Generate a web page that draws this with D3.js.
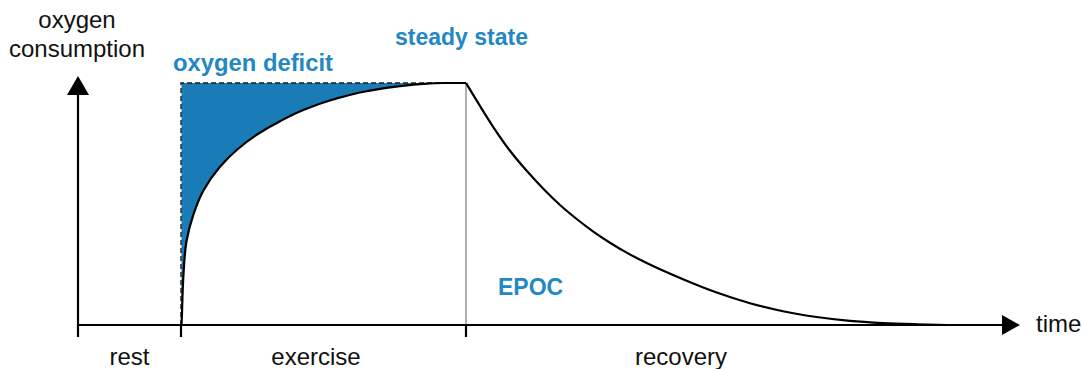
<!DOCTYPE html>
<html>
<head>
<meta charset="utf-8">
<script src="https://cdn.jsdelivr.net/npm/d3@7"></script>
<style>
  html, body { margin: 0; padding: 0; background: #fff; }
  svg { display: block; }
  text { font-family: "Liberation Sans", Arial, sans-serif; }
</style>
</head>
<body>
<svg id="chart" width="1082" height="369"></svg>
<script>
// ---- data (time in arbitrary units, oxygen consumption in % of steady state) ----
const exerciseTime  = [10.35, 10.4, 10.45, 10.55, 10.87, 11.53, 12.53, 14.2, 15.87, 17.87, 20.2, 22.53, 25.5, 28.87, 32.2, 34.5, 36.5, 38.8];
const exerciseValue = [0,     5,    12,    21,    35,    45.5,  55.5,  65.4, 72.3,  78.6,  84.2, 88.8,  93.2, 96.6,  98.7, 99.6, 100,  100];
const recoveryTime  = [38.8, 40.2, 41.53, 43.2, 44.87, 46.53, 48.2, 49.87, 51.53, 53.2, 54.87, 56.87, 60.5, 63.87, 67.2, 70.5, 73.87, 77.2, 80.5, 83.87, 87];
const recoveryValue = [100,  90.5, 81.8,  72.0, 63.7,  56.3,  49.6, 43.8,  38.6,  34.0, 29.9,  25.6,  18.9, 13.4,  9.0,  5.7,  3.3,   1.7,  0.8,  0.3,   0];
const phaseNames  = ["rest", "exercise", "recovery"];
const phaseBounds = [0, 10.3, 38.8];          // tick positions (phase starts)
const phaseLabelT = [5.15, 23.8, 60.3];       // label anchor times
const steadyLevel = 100;
const axisTitleY = ["oxygen", "consumption"];
const axisTitleX = "time";
const annotations = ["oxygen deficit", "steady state", "EPOC"];

// ---- scales ----
const svg = d3.select("#chart");
const x = d3.scaleLinear().domain([0, 94]).range([78, 1018]);
const y = d3.scaleLinear().domain([0, 100]).range([325, 83]);

const blueFill = "#1a7cb6";
const blueText = "#2387c3";

const ex = exerciseTime.map((t, i) => ({t, v: exerciseValue[i]}));
const rec = recoveryTime.map((t, i) => ({t, v: recoveryValue[i]}));

// oxygen deficit area (between steady level and the exercise curve)
const area = d3.area()
  .x(d => x(d.t))
  .y0(y(steadyLevel))
  .y1(d => y(d.v))
  .curve(d3.curveMonotoneY);
svg.append("path")
  .datum(ex.filter((d, i) => i === 0 || d.v > ex[i-1].v))
  .attr("d", area)
  .attr("fill", blueFill);

// dashed outline of the oxygen demand (rectangle left & top)
svg.append("path")
  .attr("d", d3.line()([[x(phaseBounds[1]), y(0)], [x(phaseBounds[1]), y(steadyLevel)], [x(phaseBounds[2]), y(steadyLevel)]]))
  .attr("fill", "none")
  .attr("stroke", "#1a1a1a")
  .attr("stroke-width", 1.4)
  .attr("stroke-dasharray", "5,3");

// thin grey separator at end of exercise
svg.append("line")
  .attr("x1", x(phaseBounds[2])).attr("x2", x(phaseBounds[2]))
  .attr("y1", y(steadyLevel)).attr("y2", y(0))
  .attr("stroke", "#7a7a7a").attr("stroke-width", 1.2);

// curves
svg.append("path")
  .datum(ex.filter((d, i) => i === 0 || d.v > ex[i-1].v).concat([ex[ex.length - 1]]))
  .attr("d", d3.line().x(d => x(d.t)).y(d => y(d.v)).curve(d3.curveMonotoneY))
  .attr("fill", "none").attr("stroke", "#000").attr("stroke-width", 2.2);
svg.append("path")
  .datum(rec)
  .attr("d", d3.line().x(d => x(d.t)).y(d => y(d.v)).curve(d3.curveMonotoneX))
  .attr("fill", "none").attr("stroke", "#000").attr("stroke-width", 2.2);

// axes
const x0 = x(0), yb = y(0);
svg.append("line").attr("x1", x0).attr("x2", 1004).attr("y1", yb).attr("y2", yb)
  .attr("stroke", "#000").attr("stroke-width", 2.2);
svg.append("path").attr("d", `M1002,315 L1020,325 L1002,335 Z`).attr("fill", "#000");
svg.append("line").attr("x1", x0).attr("x2", x0).attr("y1", yb).attr("y2", 92)
  .attr("stroke", "#000").attr("stroke-width", 2.2);
svg.append("path").attr("d", `M67,95 L${x0},76 L89,95 Z`).attr("fill", "#000");

// phase ticks
svg.selectAll(".tick").data(phaseBounds).enter().append("line")
  .attr("x1", d => x(d)).attr("x2", d => x(d))
  .attr("y1", yb).attr("y2", 337)
  .attr("stroke", "#000").attr("stroke-width", 2.2);

// phase labels
svg.selectAll(".phase").data(phaseNames).enter().append("text")
  .attr("x", (d, i) => x(phaseLabelT[i]))
  .attr("y", 365)
  .attr("text-anchor", "middle")
  .attr("font-size", 24)
  .attr("fill", "#111")
  .text(d => d);

// axis titles
svg.selectAll(".ytitle").data(axisTitleY).enter().append("text")
  .attr("x", 77).attr("y", (d, i) => 28 + i * 29)
  .attr("text-anchor", "middle")
  .attr("font-size", 24)
  .attr("fill", "#111")
  .text(d => d);
svg.append("text").attr("x", 1036).attr("y", 332)
  .attr("font-size", 24).attr("fill", "#111").text(axisTitleX);

// annotations
const annPos = [[173, 71], [395, 45], [498, 295]];
svg.selectAll(".ann").data(annotations).enter().append("text")
  .attr("x", (d, i) => annPos[i][0]).attr("y", (d, i) => annPos[i][1])
  .attr("font-size", (d, i) => i === 0 ? 23.8 : 23)
  .attr("font-weight", "bold")
  .attr("fill", blueText)
  .text(d => d);
</script>
</body>
</html>
